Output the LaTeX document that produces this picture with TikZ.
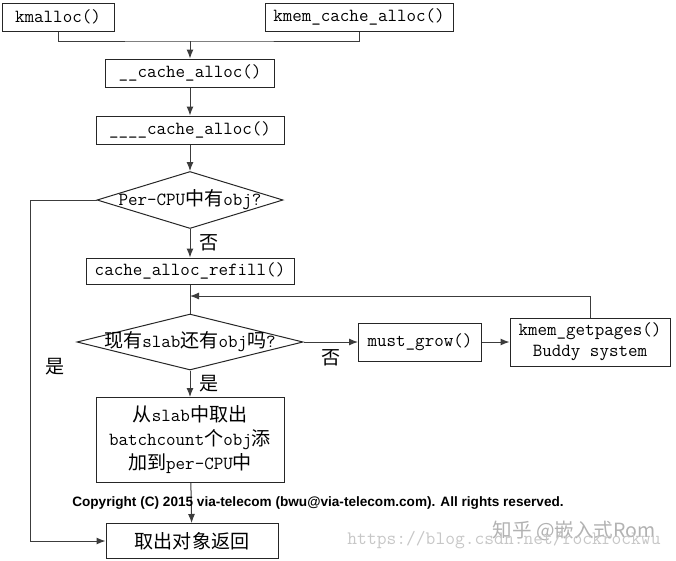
\documentclass[tikz,border=0pt]{standalone}
\usepackage{fontspec}
\newfontfamily\zhfont{Noto Sans CJK SC}[Scale=1.03]
\newfontfamily\notefont{Liberation Sans}
\newcommand{\zh}[1]{{\zhfont #1}}
\usetikzlibrary{shapes.geometric,arrows.meta}

\definecolor{linegray}{HTML}{3C3C3C}

\tikzset{
  func/.style={draw=black!85, line width=1pt, inner sep=0pt, align=center,
    font=\ttfamily\fontsize{18.5}{24}\selectfont},
  test/.style={draw=black!85, line width=1pt, diamond, inner sep=0pt,
    font=\ttfamily\fontsize{18.5}{24}\selectfont},
  line/.style={draw=linegray, line width=1pt},
  arr/.style={line, -{Latex[length=9pt,width=7pt]}},
  tag/.style={font=\fontsize{18.5}{22}\selectfont}
}

\begin{document}
\begin{tikzpicture}[x=1pt,y=-1pt]
  \useasboundingbox (0,0) rectangle (676,560);

  % entry points
  \node[func, minimum width=112pt, minimum height=28pt] (kmalloc) at (58,17) {kmalloc()};
  \node[func, minimum width=188pt, minimum height=28pt] (kmemcache) at (359,17) {kmem\_cache\_alloc()};

  % common path
  \node[func, minimum width=169pt, minimum height=28pt] (cacheA) at (190,73) {\_\_cache\_alloc()};
  \node[func, minimum width=188pt, minimum height=28pt] (cacheB) at (190,130) {\_\_\_\_cache\_alloc()};
  \node[test, minimum width=186pt, minimum height=57pt] (percpu) at (190,200)
    {\makebox[0pt]{Per-CPU\zh{中有}obj?}};
  \node[func, minimum width=208pt, minimum height=26pt] (refill) at (190,271) {cache\_alloc\_refill()};
  \node[test, minimum width=226pt, minimum height=56pt] (slab) at (190,342)
    {\makebox[0pt]{\zh{现有}slab\zh{还有}obj\zh{吗}?}};
  \node[func, minimum width=123pt, minimum height=38pt] (grow) at (420,342) {must\_grow()};
  \node[func, minimum width=160pt, minimum height=48pt] (pages) at (590,342)
    {kmem\_getpages()\\[-3pt]Buddy system};
  \node[func, minimum width=188pt, minimum height=85pt] (fill) at (190,440)
    {\zh{从}slab\zh{中取出}\\batchcount\zh{个}obj\zh{添}\\\zh{加到}per-CPU\zh{中}};
  \node[func, minimum width=172pt, minimum height=35pt] (ret) at (192,541) {\zh{取出对象返回}};

  % helper points
  \coordinate (join) at (190,41);
  \coordinate (back) at (190,296);
  \coordinate (rail) at (30,200);

  % connectors
  \draw[line] (kmalloc.south) |- (join) -| (kmemcache.south);
  \draw[arr] (join) -- (cacheA);
  \draw[arr] (cacheA) -- (cacheB);
  \draw[arr] (cacheB) -- (percpu);
  \draw[arr] (percpu) -- node[tag, right=6pt] {\zh{否}} (refill);
  \draw[line] (refill) -- (slab);
  \draw[arr] (pages.north) |- (back);
  \draw[arr] (slab) -- node[tag, below=4pt] {\zh{否}} (grow);
  \draw[arr] (grow) -- (pages);
  \draw[arr] (slab) -- node[tag, right=6pt] {\zh{是}} (fill);
  \draw[arr] (fill) -- (ret);
  \draw[arr] (percpu.west) -- (rail) |- node[tag, pos=0.245, right=12pt] {\zh{是}} (ret.west);

  % notes
  \node[font=\notefont\bfseries\fontsize{13.6}{15}\selectfont] (copy) at (318,503)
    {Copyright (C) 2015 via-telecom (bwu@via-telecom.com). All rights reserved.};
  \node[text=black!30, font=\zhfont\fontsize{19}{22}\selectfont] (mark) at (574,531) {知乎 @嵌入式Rom};
  \node[text=black!22, font=\ttfamily\fontsize{19}{22}\selectfont] (url) at (504,540) {https://blog.csdn.net/rockrockwu};
\end{tikzpicture}
\end{document}
